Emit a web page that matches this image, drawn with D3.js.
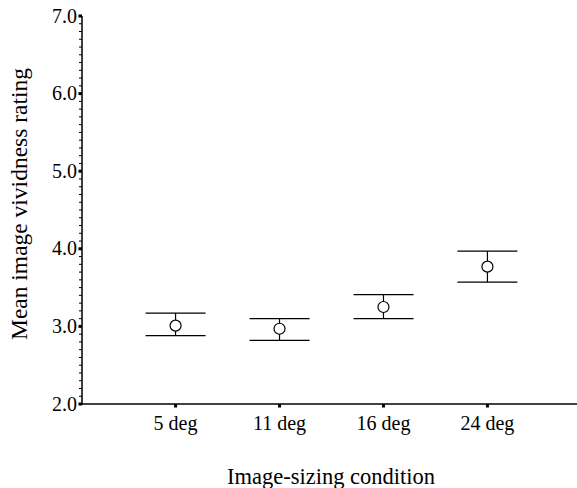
<!DOCTYPE html>
<html><head><meta charset="utf-8">
<script src="https://cdn.jsdelivr.net/npm/d3@7"></script>
<style>body{margin:0;background:#fff}svg{display:block}text{font-family:"Liberation Serif","Times New Roman",serif;fill:#000}</style>
</head><body><svg id="c" width="577" height="488"></svg>
<script>
const categories = ["5 deg", "11 deg", "16 deg", "24 deg"];
const means = [3.01, 2.97, 3.25, 3.77];
const upper = [3.17, 3.10, 3.41, 3.97];
const lower = [2.88, 2.82, 3.10, 3.57];
const yTicks = [2.0, 3.0, 4.0, 5.0, 6.0, 7.0];

(function () {
const svg = d3.select("#c");
const mLeft = 82, mRight = 581, mTop = 16, mBottom = 404;
const x = d3.scalePoint().domain(categories).range([mLeft, mRight]).padding(0.9);
const y = d3.scaleLinear().domain([2, 7]).range([mBottom, mTop]);

// minor ticks
const minor = d3.range(20, 71).map(d => d / 10);
svg.append("g").selectAll("line").data(minor).join("line")
  .attr("x1", mLeft - 3).attr("x2", mLeft).attr("y1", d => y(d)).attr("y2", d => y(d))
  .attr("stroke", "#000").attr("stroke-width", 1);
// major tick squares
svg.append("g").selectAll("rect").data(yTicks).join("rect")
  .attr("x", mLeft - 3.5).attr("y", d => y(d) - 1.5).attr("width", 3.5).attr("height", 3).attr("fill", "#000");
svg.append("g").selectAll("text").data(yTicks).join("text")
  .attr("x", mLeft - 5).attr("y", d => y(d) + 6.5).attr("text-anchor", "end")
  .attr("font-size", 20).text(d => d.toFixed(1));

// axes lines
svg.append("line").attr("x1", mLeft).attr("x2", mLeft).attr("y1", mTop).attr("y2", mBottom + 1)
  .attr("stroke", "#000").attr("stroke-width", 1.5);
svg.append("line").attr("x1", mLeft).attr("x2", 577).attr("y1", mBottom).attr("y2", mBottom)
  .attr("stroke", "#000").attr("stroke-width", 1.5);

// x ticks
svg.append("g").selectAll("rect").data(categories).join("rect")
  .attr("x", d => x(d) - 1.5).attr("y", mBottom).attr("width", 3).attr("height", 3.5).attr("fill", "#000");
svg.append("g").selectAll("text").data(categories).join("text")
  .attr("x", d => x(d)).attr("y", mBottom + 26).attr("text-anchor", "middle")
  .attr("font-size", 20).text(d => d);

// error bars
const g = svg.append("g").selectAll("g").data(categories).join("g");
g.append("line").attr("x1", d => x(d)).attr("x2", d => x(d))
  .attr("y1", (d, i) => y(upper[i])).attr("y2", (d, i) => y(lower[i])).attr("stroke", "#000").attr("stroke-width", 1.2);
g.append("line").attr("x1", d => x(d) - 30).attr("x2", d => x(d) + 30)
  .attr("y1", (d, i) => y(upper[i])).attr("y2", (d, i) => y(upper[i])).attr("stroke", "#000").attr("stroke-width", 1.2);
g.append("line").attr("x1", d => x(d) - 30).attr("x2", d => x(d) + 30)
  .attr("y1", (d, i) => y(lower[i])).attr("y2", (d, i) => y(lower[i])).attr("stroke", "#000").attr("stroke-width", 1.2);
g.append("circle").attr("cx", d => x(d)).attr("cy", (d, i) => y(means[i])).attr("r", 5.5)
  .attr("fill", "#fff").attr("stroke", "#000").attr("stroke-width", 1.2);

// axis titles
svg.append("text").attr("transform", "translate(27,204) rotate(-90)").attr("text-anchor", "middle")
  .attr("font-size", 23.5).attr("textLength", 272).attr("lengthAdjust", "spacingAndGlyphs")
  .text("Mean image vividness rating");
svg.append("text").attr("x", 331).attr("y", 484).attr("text-anchor", "middle")
  .attr("font-size", 22.5).attr("textLength", 208).attr("lengthAdjust", "spacingAndGlyphs")
  .text("Image-sizing condition");
})();
</script></body></html>
